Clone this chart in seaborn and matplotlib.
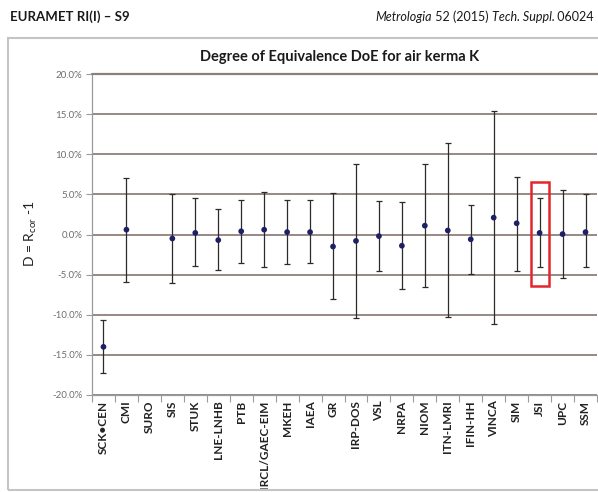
import matplotlib
matplotlib.use('agg')
import matplotlib.pyplot as plt
from matplotlib.patches import Rectangle
from matplotlib.lines import Line2D
from matplotlib.ticker import FuncFormatter, FixedLocator, NullFormatter
import numpy as np
import pandas as pd
import seaborn as sns

# DoE values, in percent
labs = ['SCK\u2022CEN', 'CMI', 'SURO', 'SIS', 'STUK', 'LNE-LNHB', 'PTB', 'IRCL/GAEC-EIM',
        'MKEH', 'IAEA', 'GR', 'IRP-DOS', 'VSL', 'NRPA', 'NIOM', 'ITN-LMRI', 'IFIN-HH',
        'VINCA', 'SIM', 'JSI', 'UPC', 'SSM']
doe = [-14.0, 0.6, np.nan, -0.5, 0.2, -0.7, 0.4, 0.6, 0.3, 0.3, -1.5, -0.8, -0.2,
       -1.4, 1.1, 0.5, -0.6, 2.1, 1.4, 0.2, 0.05, 0.3]
upper = [-10.6, 7.1, np.nan, 5.0, 4.5, 3.2, 4.3, 5.3, 4.3, 4.3, 5.2, 8.8, 4.2,
         4.0, 8.8, 11.4, 3.7, 15.4, 7.2, 4.5, 5.5, 5.0]
lower = [-17.3, -5.9, np.nan, -6.0, -3.9, -4.4, -3.5, -4.0, -3.7, -3.6, -8.0, -10.4, -4.5,
         -6.8, -6.6, -10.3, -4.9, -11.2, -4.5, -4.0, -5.4, -4.1]
highlight = 'JSI'
box_top, box_bottom = 6.5, -6.4

df = pd.DataFrame({'lab': labs, 'doe': doe, 'up': upper, 'lo': lower})
df['pos'] = np.arange(len(df))

sns.set_theme(style='white')
plt.rcParams['font.family'] = ['Lato', 'DejaVu Sans']

fig = plt.figure(figsize=(5.98, 4.92), dpi=100)
ax_top = 1 - 74 / 492
ax = fig.add_axes([92 / 598, 1 - 395 / 492, 505 / 598, ax_top - (1 - 395 / 492)])

grid_c = '#8c807c'
ax.set_yticks(range(-20, 25, 5))
ax.yaxis.grid(True, color=grid_c, lw=1.3)
ax.set_axisbelow(True)

ok = df.dropna()
ax.errorbar(ok['pos'], ok['doe'],
            yerr=[ok['doe'] - ok['lo'], ok['up'] - ok['doe']],
            fmt='none', ecolor='#2b2b2b', elinewidth=0.9, capsize=2.5, capthick=0.9, zorder=2)
sns.scatterplot(data=ok, x='pos', y='doe', ax=ax, color='#1f1f66', s=17,
                edgecolor='none', zorder=3, legend=False)

# red box around the highlighted lab
hi = labs.index(highlight)
ax.add_patch(Rectangle((hi - 0.39, box_bottom), 0.78, box_top - box_bottom,
                       fill=False, edgecolor='#e3262b', lw=1.8, zorder=4))

ax.set_xlim(-0.5, len(labs) - 0.5)
ax.set_ylim(-20, 20)
ax.yaxis.set_major_formatter(FuncFormatter(lambda v, p: '%.1f%%' % v))
ax.tick_params(axis='y', labelsize=7, labelcolor='#6e6e6e', length=4, width=0.8,
               color='#9a9a9a', left=True, pad=3)

ax.xaxis.set_major_locator(FixedLocator(np.arange(len(labs) + 1) - 0.5))
ax.xaxis.set_major_formatter(NullFormatter())
ax.xaxis.set_minor_locator(FixedLocator(np.arange(len(labs))))
ax.set_xticklabels(labs, minor=True, rotation=90, fontsize=8.5, fontweight='bold',
                   color='#222222')
ax.tick_params(axis='x', which='major', bottom=True, length=5, width=0.8, color='#9a9a9a')
ax.tick_params(axis='x', which='minor', bottom=False, length=0, pad=4)

for s in ['top', 'right']:
    ax.spines[s].set_visible(False)
ax.spines['left'].set_color('#9a9a9a')
ax.spines['bottom'].set_color('#9a9a9a')
ax.spines['left'].set_linewidth(0.9)
ax.spines['bottom'].set_linewidth(0.9)
ax.set_xlabel('')
ax.set_ylabel('')

# the 20 % line drawn on the figure, over the axes edge
fig.add_artist(Line2D([92 / 598, 1.0], [ax_top, ax_top], transform=fig.transFigure,
                      color=grid_c, lw=1.6, zorder=5))

fig.text(31 / 598, 1 - 234 / 492, 'D = R$_{\\mathregular{cor}}$ -1', rotation=90,
         ha='center', va='center', fontsize=10, color='#222222')

# chart frame and titles
fig.add_artist(Rectangle((8 / 598, 2 / 492), 1.0, (490 - 38) / 492, transform=fig.transFigure,
                         fill=False, edgecolor='#c4c4c4', lw=1.5))
fig.text(340 / 598, 1 - 57 / 492, 'Degree of Equivalence DoE for air kerma K',
         ha='center', va='center', fontsize=10.5, fontweight='bold', color='#1a1a1a')
fig.text(10 / 598, 1 - 17 / 492, 'EURAMET RI(I) \u2013 S9', ha='left', va='center',
         fontsize=9.5, fontweight='bold', color='#1a1a1a')

# right header with mixed italic pieces, laid out right to left
pieces = [('Metrologia', 'italic'), (' 52 (2015) ', 'normal'), ('Tech. Suppl.', 'italic'),
          (' 06024', 'normal')]
fig.canvas.draw()
r = fig.canvas.get_renderer()
x = 594
for txt, st in reversed(pieces):
    t = fig.text(x / 598, 1 - 17 / 492, txt, ha='right', va='center', fontsize=9,
                 style=st, color='#1a1a1a')
    x -= t.get_window_extent(r).width

fig.savefig('out.png', dpi=100)
